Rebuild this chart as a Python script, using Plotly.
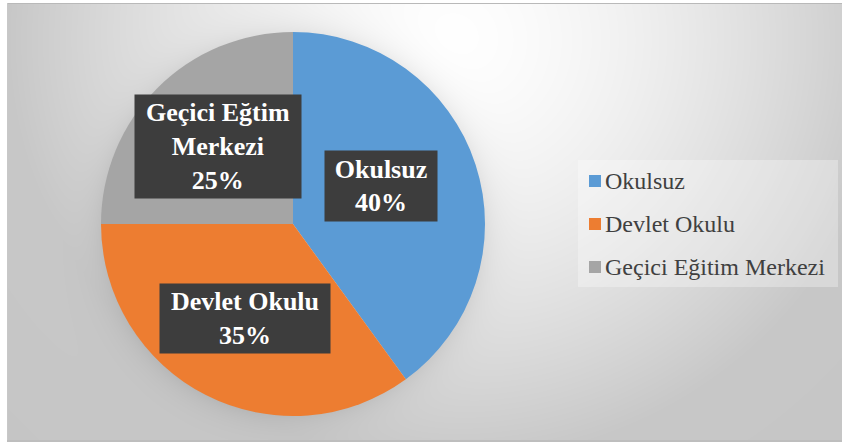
import base64, struct, zlib
import numpy as np
import plotly.graph_objects as go

# ---- data ----
categories = ["Okulsuz", "Devlet Okulu", "Geçici Eğitim Merkezi"]
values = [40, 35, 25]
data_label_names = ["Okulsuz", "Devlet Okulu", "Geçici Eğtim<br>Merkezi"]
colors = ["#5B9BD5", "#ED7D31", "#A5A5A5"]

W, H = 842, 447
SERIF = "Times New Roman, Liberation Serif, serif"
# pie placement (pixels)
PX0, PX1, PY0, PY1 = 101, 485, 32, 416
CX, CY = (PX0 + PX1) / 2, (PY0 + PY1) / 2
R = (PX1 - PX0) / 2
label_frac = [0.48, 0.55, 0.55]
label_yshift = [10, 0, 3]
label_box = [(112, 70), (170, 69), (166, 103)]


def make_png(arr):
    h, w, _ = arr.shape
    raw = b"".join(b"\x00" + arr[i].tobytes() for i in range(h))
    def chunk(t, d):
        c = struct.pack(">I", len(d)) + t + d
        return c + struct.pack(">I", zlib.crc32(t + d) & 0xffffffff)
    png = b"\x89PNG\r\n\x1a\n" + chunk(b"IHDR", struct.pack(">IIBBBBB", w, h, 8, 2, 0, 0, 0))
    png += chunk(b"IDAT", zlib.compress(raw, 9)) + chunk(b"IEND", b"")
    return "data:image/png;base64," + base64.b64encode(png).decode()


yy, xx = np.mgrid[0:H, 0:W].astype(float)
d = np.sqrt(((xx - 450) / 440) ** 2 + ((yy - 40) / 420) ** 2)
val = 255 - 55 * np.clip(d, 0, 1) ** 1.5 - 6 * np.clip(d - 1, 0, 0.5)
# soft shadow around pie
dist = np.sqrt((xx - CX) ** 2 + (yy - CY) ** 2)
val -= 16 * np.exp(-np.clip(dist - R, 0, None) / 14) * (dist > R - 2)
val = np.clip(val, 0, 255)
img = np.repeat(val[:, :, None], 3, axis=2).astype(np.uint8)
# outside white + border
img[:, :7] = 255
img[442:, :] = 255
img[:3, :] = 255
img[3, 7:] = 185
img[3:442, 7] = 200
img[440:442, 7:] = 190
bg_uri = make_png(img)

fig = go.Figure()
fig.add_trace(go.Pie(
    labels=categories, values=values, sort=False, direction="clockwise", rotation=0,
    marker=dict(colors=colors, line=dict(width=0)),
    textinfo="none", hoverinfo="label+percent", showlegend=False,
    domain=dict(x=[PX0 / W, PX1 / W], y=[1 - PY1 / H, 1 - PY0 / H]),
))

total = sum(values)
cum = 0
annotations = []
for i, (name, v) in enumerate(zip(data_label_names, values)):
    mid = (cum + v / 2) / total * 2 * np.pi
    cum += v
    x = CX + label_frac[i] * R * np.sin(mid)
    y = CY - label_frac[i] * R * np.cos(mid) - label_yshift[i]
    bw, bh = label_box[i]
    annotations.append(dict(
        x=x / W, y=1 - y / H, xref="paper", yref="paper", showarrow=False,
        xanchor="center", yanchor="middle", width=bw, height=bh,
        text=f"<b>{name}<br>{round(v / total * 100)}%</b>",
        font=dict(family=SERIF, size=26, color="white"),
        bgcolor="#3d3d3d", borderpad=0, align="center", valign="middle",
    ))

# manual legend
shapes = [dict(type="rect", xref="paper", yref="paper", x0=578 / W, x1=838 / W,
               y0=1 - 287 / H, y1=1 - 160 / H, fillcolor="rgba(255,255,255,0.3)",
               line=dict(width=0), layer="below")]
row_y = [181, 224, 267]
for cat, col, ry in zip(categories, colors, row_y):
    shapes.append(dict(type="rect", xref="paper", yref="paper", x0=589 / W, x1=601 / W,
                       y0=1 - (ry + 6) / H, y1=1 - (ry - 6) / H, fillcolor=col, line=dict(width=0)))
    annotations.append(dict(x=603 / W, y=1 - ry / H, xref="paper", yref="paper", showarrow=False,
                            xanchor="left", yanchor="middle", text=cat,
                            font=dict(family=SERIF, size=24, color="#404040")))

fig.update_layout(
    width=W, height=H, margin=dict(l=0, r=0, t=0, b=0),
    paper_bgcolor="white", plot_bgcolor="white",
    font=dict(family=SERIF),
    images=[dict(source=bg_uri, xref="paper", yref="paper", x=0, y=1, sizex=1, sizey=1,
                 xanchor="left", yanchor="top", sizing="stretch", layer="below")],
    shapes=shapes, annotations=annotations,
)
fig.write_html("out.html", config={"displayModeBar": False},
               post_script="document.body.style.margin='0';document.body.style.padding='0';")
